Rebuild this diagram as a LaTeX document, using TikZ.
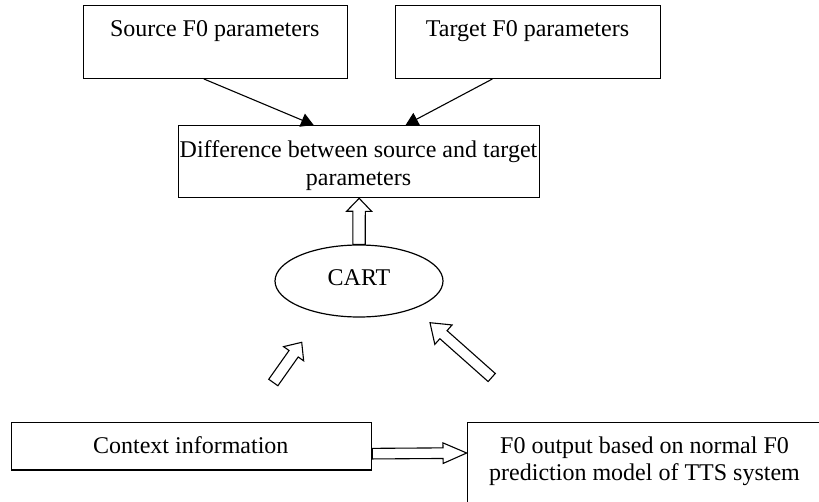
\documentclass[tikz,border=0pt]{standalone}
\usepackage{fontspec}
\setmainfont{Liberation Serif}
\usetikzlibrary{arrows.meta,calc,shapes.geometric}
\tikzset{
 box/.style={draw, line width=1.3pt, rectangle, inner sep=0pt, anchor=north west},
 lbl/.style={inner sep=0pt, font=\fontsize{24}{28}\selectfont},
 hollow/.style={draw, line width=1.1pt, fill=white, line join=miter},
 conn/.style={line width=1.1pt, -{Triangle[length=12.5pt,width=14pt]}},
}
\newcommand\harrow[5]{%
 \coordinate (hb) at ($(#2)!#5!(#1)$);
 \draw[hollow] ($(#1)!#3!90:(#2)$) -- ($(hb)!#3!90:(#2)$) -- ($(hb)!#4!90:(#2)$) -- (#2) -- ($(hb)!#4!-90:(#2)$) -- ($(hb)!#3!-90:(#2)$) -- ($(#1)!#3!-90:(#2)$) -- cycle;}
\begin{document}
\begin{tikzpicture}[x=1pt,y=-1pt]
\useasboundingbox (0,0) rectangle (819,501);
\clip (0,0) rectangle (819,501);
\node[box, minimum width=264pt, minimum height=72.7pt] (src) at (82.7,5) {};
\node[lbl, anchor=base] (srct) at (214.7,36) {Source F0 parameters};
\node[box, minimum width=265pt, minimum height=72.7pt] (tgt) at (395,5) {};
\node[lbl, anchor=base] (tgtt) at (527.5,36) {Target F0 parameters};
\node[box, minimum width=361pt, minimum height=72pt] (diff) at (178,125) {};
\node[lbl, align=center] (difft) at (358.5,165.4) {Difference between source and target\\parameters};
\node[ellipse, draw, line width=1.2pt, minimum width=168pt, minimum height=72pt, inner sep=0pt, text depth=6pt, font=\fontsize{24}{28}\selectfont] (cart) at (359,281) {CART};
\node[box, minimum width=360.3pt, minimum height=47.6pt] (ctx) at (10.7,421.7) {};
\node[lbl, anchor=base] (ctxt) at (190.8,453.3) {Context information};
\node[box, minimum width=356pt, minimum height=90pt] (f0) at (466.7,421.7) {};
\node[lbl, align=center, font=\fontsize{24}{27}\selectfont] (f0t) at (644.5,460.9) {F0 output based on normal F0\\prediction model of TTS system};
\draw[conn] ($(src.south)+(-11.4,0)$) -- ($(diff.north)+(-45.5,0)$);
\draw[conn] ($(tgt.south)+(-35.8,0)$) -- ($(diff.north)+(46.5,0)$);
\harrow{cart.north}{diff.south}{6.2pt}{12.5pt}{13pt}
\coordinate (llt) at (273.3,382.5);
\coordinate (llh) at (301.7,342.3);
\harrow{llt}{llh}{5.6pt}{12.3pt}{14pt}
\coordinate (lrt) at (491.7,377.5);
\coordinate (lrh) at (430,322.7);
\harrow{lrt}{lrh}{5.4pt}{13pt}{18pt}
\coordinate (ra) at ($(ctx.east)+(0,7.5)$);
\coordinate (rb) at ($(f0.north west)+(0,31.3)$);
\harrow{ra}{rb}{5.3pt}{10.3pt}{23.7pt}
\end{tikzpicture}
\end{document}
